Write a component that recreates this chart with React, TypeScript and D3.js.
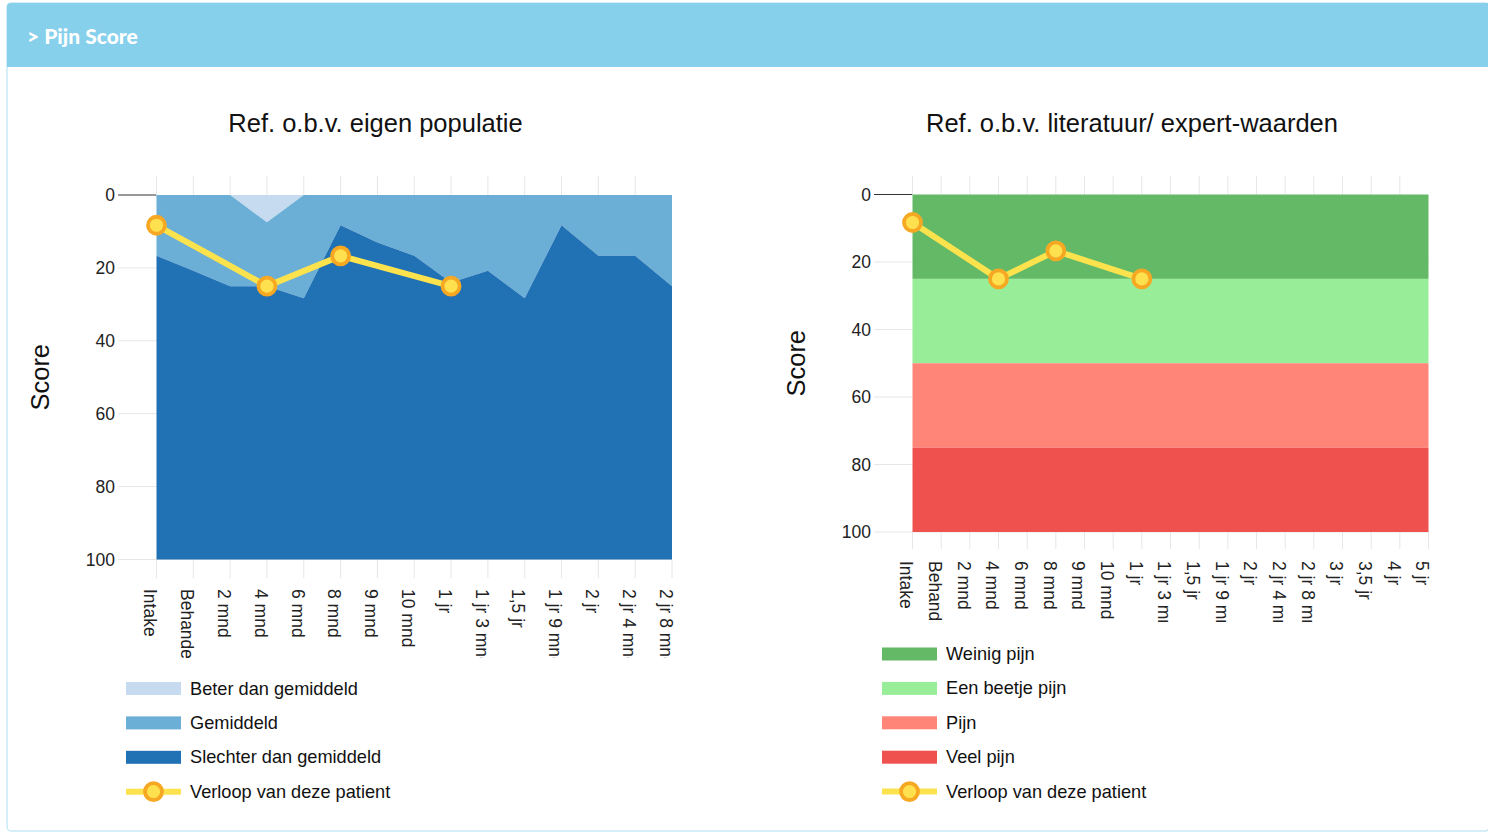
import React from "react";
import * as d3 from "d3";

const leftCategories = [
  "Intake", "Behandeling", "2 mnd", "4 mnd", "6 mnd", "8 mnd", "9 mnd", "10 mnd",
  "1 jr", "1 jr 3 mnd", "1,5 jr", "1 jr 9 mnd", "2 jr", "2 jr 4 mnd", "2 jr 8 mnd",
];
const rightCategories = [...leftCategories, "3 jr", "3,5 jr", "4 jr", "5 jr"];

// grens tussen "beter" en "gemiddeld", en tussen "gemiddeld" en "slechter"
const beterGrens = [0, 0, 0, 7.5, 0, 0, 0, 0, 0, 0, 0, 0, 0, 0, 0];
const slechterGrens = [16.7, 20.8, 25, 25, 28.3, 8.3, 13, 16.7, 24, 20.8, 28.3, 8.3, 16.7, 16.7, 25];

const patientMomenten = ["Intake", "4 mnd", "8 mnd", "1 jr"];
const patientScores = [8.3, 25, 16.7, 25];

const bandLabels = ["Weinig pijn", "Een beetje pijn", "Pijn", "Veel pijn"];
const bandVan = [0, 25, 50, 75];
const bandTot = [25, 50, 75, 100];
const bandColors = ["#64b966", "#98ed98", "#fe8577", "#ef524e"];

const popLabels = ["Beter dan gemiddeld", "Gemiddeld", "Slechter dan gemiddeld"];
const popColors = ["#c6dbef", "#6baed6", "#2171b5"];

const yTicks = [0, 20, 40, 60, 80, 100];

const FONT = "'Liberation Sans', Arial, Helvetica, sans-serif";
const LINE = "#fce34e";
const DOT_FILL = "#ffe04f";
const DOT_STROKE = "#f7a823";

type Cfg = {
  id: string;
  categories: string[];
  xRange: [number, number];
  yRange: [number, number];
  gridTop: number;
  tickBottom: number;
  labelStart: number;
  clipLen: number;
  axisLeft: number;
  title: string;
  titleX: number;
  scoreX: number;
};

function Axes({ cfg, x, y }: { cfg: Cfg; x: d3.ScalePoint<string>; y: d3.ScaleLinear<number, number> }) {
  const last = cfg.categories[cfg.categories.length - 1];
  return (
    <g>
      {yTicks.map((t) => (
        <g key={t}>
          <line x1={cfg.axisLeft} x2={t === 0 ? cfg.xRange[0] : cfg.xRange[1]} y1={y(t)} y2={y(t)}
            stroke={t === 0 ? "#333" : "#e6e6e6"} strokeWidth={t === 0 ? 1.2 : 1} />
          <text x={cfg.axisLeft - 3} y={y(t)} textAnchor="end" dominantBaseline="central"
            fontSize={17.5} fontFamily={FONT} fill="#222">{t}</text>
        </g>
      ))}
      {cfg.categories.map((c) => (
        <g key={c}>
          {c !== last && (
            <line x1={x(c)} x2={x(c)} y1={cfg.gridTop} y2={cfg.yRange[0]} stroke="#e6e6e6" />
          )}
          <line x1={x(c)} x2={x(c)} y1={cfg.yRange[1]} y2={cfg.tickBottom} stroke="#e6e6e6" />
        </g>
      ))}
    </g>
  );
}

function XLabels({ cfg, x }: { cfg: Cfg; x: d3.ScalePoint<string> }) {
  return (
    <g>
      <defs>
        <clipPath id={`clip-${cfg.id}`}>
          <rect x={cfg.xRange[0] - 30} y={cfg.labelStart - 4} width={cfg.xRange[1] - cfg.xRange[0] + 60}
            height={cfg.clipLen + 4} />
        </clipPath>
      </defs>
      <g clipPath={`url(#clip-${cfg.id})`}>
        {cfg.categories.map((c) => (
          <text key={c} transform={`translate(${x(c)},${cfg.labelStart}) rotate(90)`} dy="0.7em"
            fontSize={17.5} fontFamily={FONT} fill="#222">{c}</text>
        ))}
      </g>
    </g>
  );
}

function Patient({ x, y }: { x: d3.ScalePoint<string>; y: d3.ScaleLinear<number, number> }) {
  const pts = patientMomenten.map((m, i) => [x(m) as number, y(patientScores[i])] as [number, number]);
  const line = d3.line();
  return (
    <g>
      <path d={line(pts) || ""} fill="none" stroke={LINE} strokeWidth={6} strokeLinejoin="round" />
      {pts.map((p, i) => (
        <circle key={i} cx={p[0]} cy={p[1]} r={8.5} fill={DOT_FILL} stroke={DOT_STROKE} strokeWidth={3.8} />
      ))}
    </g>
  );
}

function Frame({ cfg, children }: { cfg: Cfg; children: (x: d3.ScalePoint<string>, y: d3.ScaleLinear<number, number>) => React.ReactNode }) {
  const x = d3.scalePoint<string>().domain(cfg.categories).range(cfg.xRange).padding(0);
  const y = d3.scaleLinear().domain([0, 100]).range(cfg.yRange);
  const midY = (cfg.yRange[0] + cfg.yRange[1]) / 2;
  return (
    <g>
      <text x={cfg.titleX} y={123} textAnchor="middle" dominantBaseline="central" fontSize={25.5}
        fontFamily={FONT} fill="#111">{cfg.title}</text>
      <text transform={`translate(${cfg.scoreX},${midY}) rotate(-90)`} textAnchor="middle"
        dominantBaseline="central" fontSize={25.5} fontFamily={FONT} fill="#111">Score</text>
      <Axes cfg={cfg} x={x} y={y} />
      {children(x, y)}
      <XLabels cfg={cfg} x={x} />
      <Patient x={x} y={y} />
    </g>
  );
}

const leftCfg: Cfg = {
  id: "links", categories: leftCategories, xRange: [156.5, 672], yRange: [195, 559.5],
  gridTop: 176, tickBottom: 578, labelStart: 589, clipLen: 69, axisLeft: 118,
  title: "Ref. o.b.v. eigen populatie", titleX: 375.5, scoreX: 40,
};
const rightCfg: Cfg = {
  id: "rechts", categories: rightCategories, xRange: [912.5, 1428.5], yRange: [194.5, 532],
  gridTop: 176, tickBottom: 549, labelStart: 561, clipLen: 61, axisLeft: 874,
  title: "Ref. o.b.v. literatuur/ expert-waarden", titleX: 1132, scoreX: 796,
};

function LegendLineSymbol({ x, y }: { x: number; y: number }) {
  return (
    <g>
      <line x1={x} x2={x + 55} y1={y} y2={y} stroke={LINE} strokeWidth={6} />
      <circle cx={x + 27.5} cy={y} r={8.5} fill={DOT_FILL} stroke={DOT_STROKE} strokeWidth={3.8} />
    </g>
  );
}

function Legend({ x, y0, labels, colors }: { x: number; y0: number; labels: string[]; colors: string[] }) {
  const step = 34.4;
  const items = [...labels, "Verloop van deze patient"];
  return (
    <g>
      {items.map((l, i) => {
        const cy = y0 + i * step;
        return (
          <g key={l}>
            {i < labels.length ? (
              <rect x={x} y={cy - 6.5} width={55} height={13} fill={colors[i]} />
            ) : (
              <LegendLineSymbol x={x} y={cy} />
            )}
            <text x={x + 64} y={cy} dominantBaseline="central" fontSize={18.2} fontFamily={FONT} fill="#111">{l}</text>
          </g>
        );
      })}
    </g>
  );
}

export default function App() {
  const W = 1488;
  const H = 834;
  return (
    <div>
      <style>{`body{margin:0}`}</style>
      <svg width={W} height={H} style={{ display: "block", background: "#fff" }}>
        <rect x={7} y={3} width={W - 6} height={828} fill="#fff" stroke="#c9e9f5" strokeWidth={1.5} rx={4} />
        <path d={`M7,67 V7 Q7,3 11,3 H${W} V67 Z`} fill="#86d0ec" />
        <text x={27} y={35} dominantBaseline="central" fontSize={21} fontWeight={900}
          fontFamily="Lato, 'Open Sans', sans-serif" fill="#fff">&gt; Pijn Score</text>

        <Frame cfg={leftCfg}>
          {(x, y) => {
            const area = (top: number[], bottom: number[] | null) =>
              d3.area<string>()
                .x((c) => x(c) as number)
                .y0((c, i) => y(top[i]))
                .y1((c, i) => (bottom ? y(bottom[i]) : y(100)))(leftCategories) || "";
            return (
              <g>
                <path d={area(leftCategories.map(() => 0), beterGrens)} fill={popColors[0]} />
                <path d={area(beterGrens, slechterGrens)} fill={popColors[1]} />
                <path d={area(slechterGrens, null)} fill={popColors[2]} />
              </g>
            );
          }}
        </Frame>

        <Frame cfg={rightCfg}>
          {(x, y) => (
            <g>
              {bandLabels.map((b, i) => (
                <rect key={b} x={rightCfg.xRange[0]} width={rightCfg.xRange[1] - rightCfg.xRange[0]}
                  y={y(bandVan[i])} height={y(bandTot[i]) - y(bandVan[i])} fill={bandColors[i]} />
              ))}
            </g>
          )}
        </Frame>

        <Legend x={126} y0={688.5} labels={popLabels} colors={popColors} />
        <Legend x={882} y0={654} labels={bandLabels} colors={bandColors} />
      </svg>
    </div>
  );
}
